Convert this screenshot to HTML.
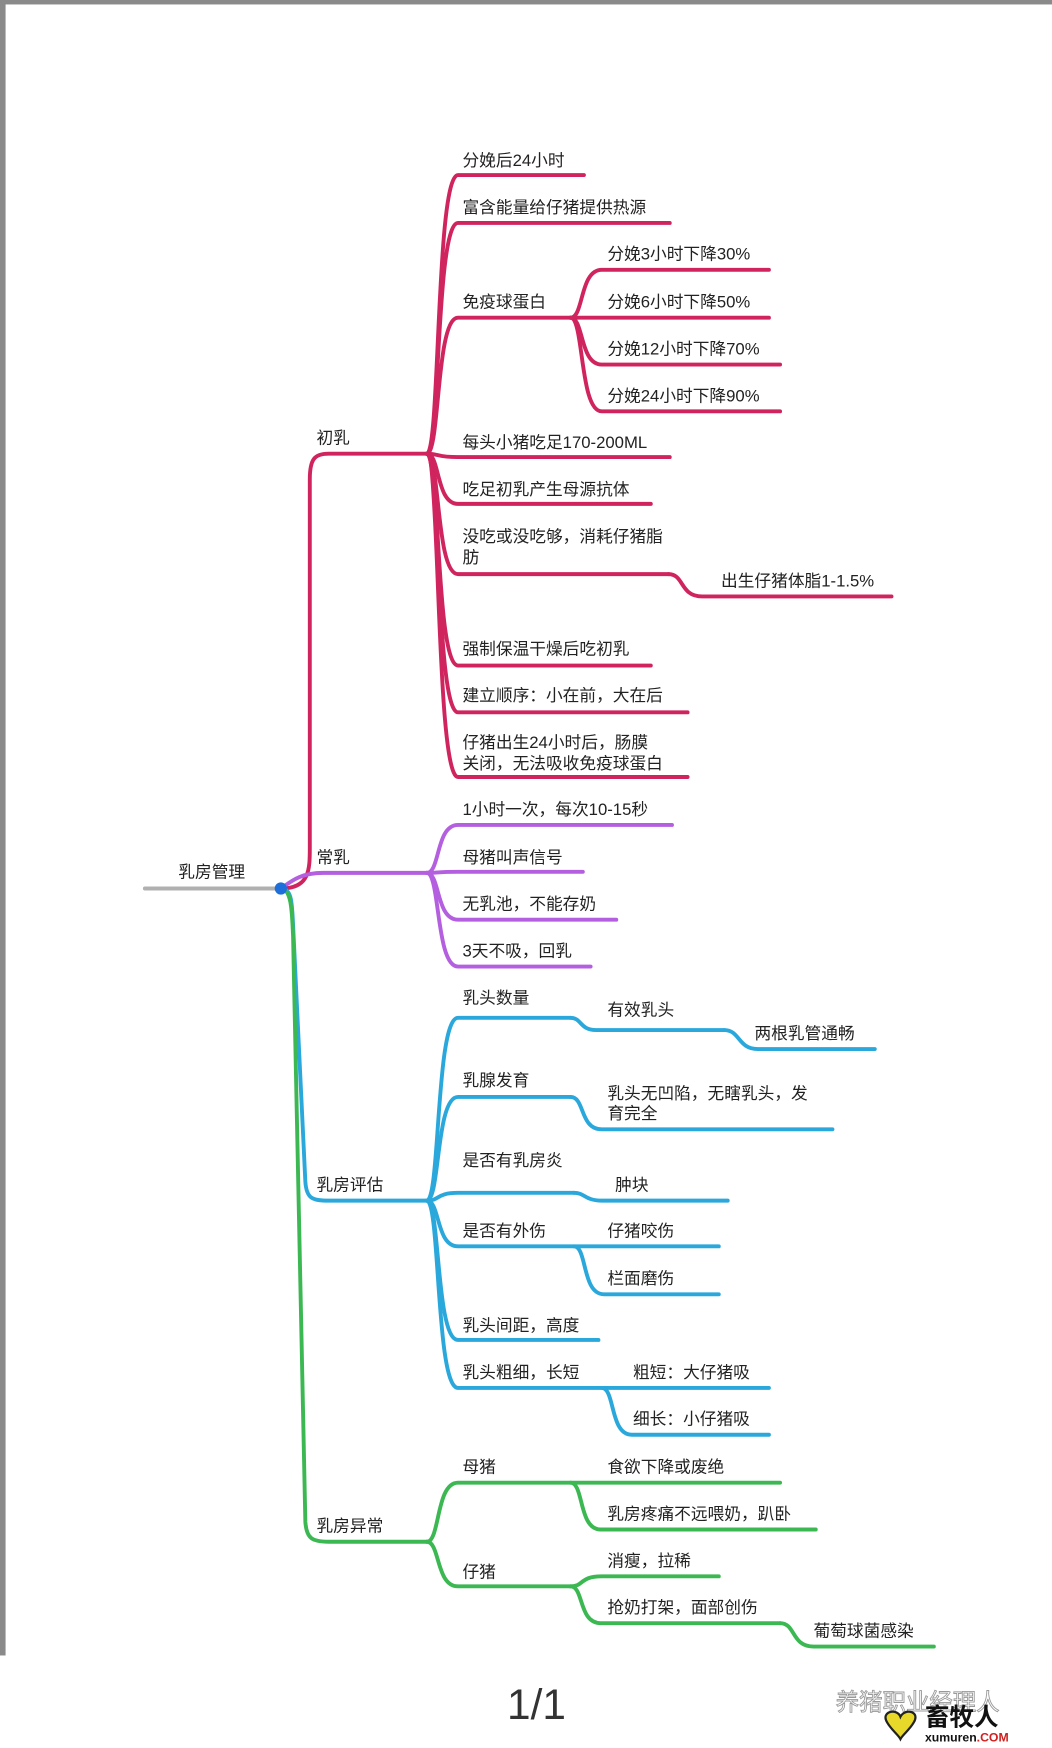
<!DOCTYPE html>
<html><head><meta charset="utf-8"><style>
html,body{margin:0;padding:0;background:#fff;width:1052px;height:1748px;overflow:hidden}
svg{display:block}
text{font-family:"Liberation Sans","Noto Sans CJK SC",sans-serif;font-size:15px;fill:#222}
</style></head><body>
<svg width="1052" height="1748" viewBox="0 0 944 1568" preserveAspectRatio="none">
<rect x="0" y="0" width="944" height="4" fill="#8a8a8a"/>
<rect x="0" y="0" width="5" height="1485" fill="#8a8a8a"/>
<g fill="none" stroke-width="3.5" stroke-linecap="round">
<path d="M130 797 L252 797" stroke="#b0b0b0"/>
<g stroke="#d0245e">
<path d="M252 797 C278 797 278 780 278 760 L278 430 C278 412 282 407 295 407 L383 407"/>
<path d="M383 407 C395 407 391 157 411 157 L524 157"/>
<path d="M383 407 C395 407 391 200 411 200 L601 200"/>
<path d="M383 407 C395 407 391 285 411 285 L512 285"/>
<path d="M383 407 C395 407 391 410 411 410 L601 410"/>
<path d="M383 407 C395 407 391 452 411 452 L584 452"/>
<path d="M383 407 C395 407 391 515 411 515 L600 515"/>
<path d="M383 407 C395 407 391 597 411 597 L584 597"/>
<path d="M383 407 C395 407 391 639 411 639 L617 639"/>
<path d="M383 407 C395 407 391 697 411 697 L617 697"/>
<path d="M600 515 C614 515 610 535 630 535 L800 535"/>
<path d="M512 285 C524 285 520 242 540 242 L690 242"/>
<path d="M512 285 L690 285"/>
<path d="M512 285 C524 285 520 327 540 327 L700 327"/>
<path d="M512 285 C524 285 520 369 540 369 L700 369"/>
</g>
<g stroke="#b45ee0">
<path d="M252 797 C262 790 270 783 290 783 L383 783"/>
<path d="M383 783 C395 783 391 740 411 740 L603 740"/>
<path d="M383 783 C395 783 391 782 411 782 L523 782"/>
<path d="M383 783 C395 783 391 825 411 825 L553 825"/>
<path d="M383 783 C395 783 391 867 411 867 L530 867"/>
</g>
<g stroke="#2aa8dc">
<path d="M252 797 C262 797 262 810 263 830 L274 1060 C275 1075 280 1077 295 1077 L383 1077"/>
<path d="M383 1077 C395 1077 391 913 411 913 L512 913"/>
<path d="M383 1077 C395 1077 391 984 411 984 L512 984"/>
<path d="M383 1077 C395 1077 391 1070 411 1070 L515 1070"/>
<path d="M383 1077 C395 1077 391 1118 411 1118 L645 1118"/>
<path d="M383 1077 C395 1077 391 1202 411 1202 L537 1202"/>
<path d="M383 1077 C395 1077 391 1245 411 1245 L690 1245"/>
<path d="M512 913 C522 913 520 924 535 924 L650 924"/>
<path d="M650 924 C664 924 662 941 680 941 L785 941"/>
<path d="M512 984 C525 984 520 1013 540 1013 L747 1013"/>
<path d="M515 1070 C525 1070 525 1077 540 1077 L653 1077"/>
<path d="M515 1118 C527 1118 522 1161 542 1161 L645 1161"/>
<path d="M540 1245 C552 1245 547 1287 567 1287 L690 1287"/>
</g>
<g stroke="#3cb853">
<path d="M252 797 C262 797 262 820 263 840 L274 1365 C275 1380 280 1383 295 1383 L383 1383"/>
<path d="M383 1383 C395 1383 391 1330 411 1330 L700 1330"/>
<path d="M512 1330 C524 1330 519 1372 539 1372 L732 1372"/>
<path d="M383 1383 C395 1383 391 1423 411 1423 L512 1423"/>
<path d="M512 1423 C524 1423 520 1414 540 1414 L645 1414"/>
<path d="M512 1423 C524 1423 519 1456 539 1456 L700 1456"/>
<path d="M700 1456 C714 1456 710 1477 730 1477 L838 1477"/>
</g>
</g>
<circle cx="252" cy="797" r="5.5" fill="#1e6fd9"/>
<text x="160" y="787">乳房管理</text>
<text x="284" y="398">初乳</text>
<text x="284" y="774">常乳</text>
<text x="284" y="1068">乳房评估</text>
<text x="284" y="1374">乳房异常</text>
<text x="415" y="149">分娩后24小时</text>
<text x="415" y="191">富含能量给仔猪提供热源</text>
<text x="415" y="276">免疫球蛋白</text>
<text x="545" y="233">分娩3小时下降30%</text>
<text x="545" y="276">分娩6小时下降50%</text>
<text x="545" y="318">分娩12小时下降70%</text>
<text x="545" y="360">分娩24小时下降90%</text>
<text x="415" y="402">每头小猪吃足170-200ML</text>
<text x="415" y="444">吃足初乳产生母源抗体</text>
<text x="415" y="486">没吃或没吃够，消耗仔猪脂</text>
<text x="415" y="505">肪</text>
<text x="647" y="526">出生仔猪体脂1-1.5%</text>
<text x="415" y="587">强制保温干燥后吃初乳</text>
<text x="415" y="629">建立顺序：小在前，大在后</text>
<text x="415" y="671">仔猪出生24小时后，肠膜</text>
<text x="415" y="690">关闭，无法吸收免疫球蛋白</text>
<text x="415" y="731">1小时一次，每次10-15秒</text>
<text x="415" y="774">母猪叫声信号</text>
<text x="415" y="816">无乳池，不能存奶</text>
<text x="415" y="858">3天不吸，回乳</text>
<text x="415" y="900">乳头数量</text>
<text x="545" y="911">有效乳头</text>
<text x="677" y="932">两根乳管通畅</text>
<text x="415" y="974">乳腺发育</text>
<text x="545" y="986">乳头无凹陷，无瞎乳头，发</text>
<text x="545" y="1004">育完全</text>
<text x="415" y="1046">是否有乳房炎</text>
<text x="552" y="1068">肿块</text>
<text x="415" y="1109">是否有外伤</text>
<text x="545" y="1109">仔猪咬伤</text>
<text x="545" y="1152">栏面磨伤</text>
<text x="415" y="1194">乳头间距，高度</text>
<text x="415" y="1236">乳头粗细，长短</text>
<text x="568" y="1236">粗短：大仔猪吸</text>
<text x="568" y="1278">细长：小仔猪吸</text>
<text x="415" y="1321">母猪</text>
<text x="545" y="1321">食欲下降或废绝</text>
<text x="545" y="1363">乳房疼痛不远喂奶，趴卧</text>
<text x="545" y="1405">消瘦，拉稀</text>
<text x="415" y="1415">仔猪</text>
<text x="545" y="1447">抢奶打架，面部创伤</text>
<text x="730" y="1468">葡萄球菌感染</text>
<text x="455" y="1542" style="font-size:38px;fill:#333">1/1</text>
<text x="750" y="1534" style="font-size:21px;fill:#fff;stroke:#999;stroke-width:0.8">养猪职业经理人</text>
<path d="M796 1545 C790 1535 805 1532 808 1540 C812 1532 826 1535 820 1545 C816 1552 810 1556 808 1560 C806 1556 800 1552 796 1545Z" fill="#e8d82a" stroke="#222" stroke-width="2"/>
<text x="830" y="1548" style="font-size:22px;font-weight:bold;fill:#111">畜牧人</text>
<text x="830" y="1562" style="font-size:11px;font-weight:bold;fill:#111">xumuren<tspan fill="#d02020">.COM</tspan></text>
</svg>
</body></html>
